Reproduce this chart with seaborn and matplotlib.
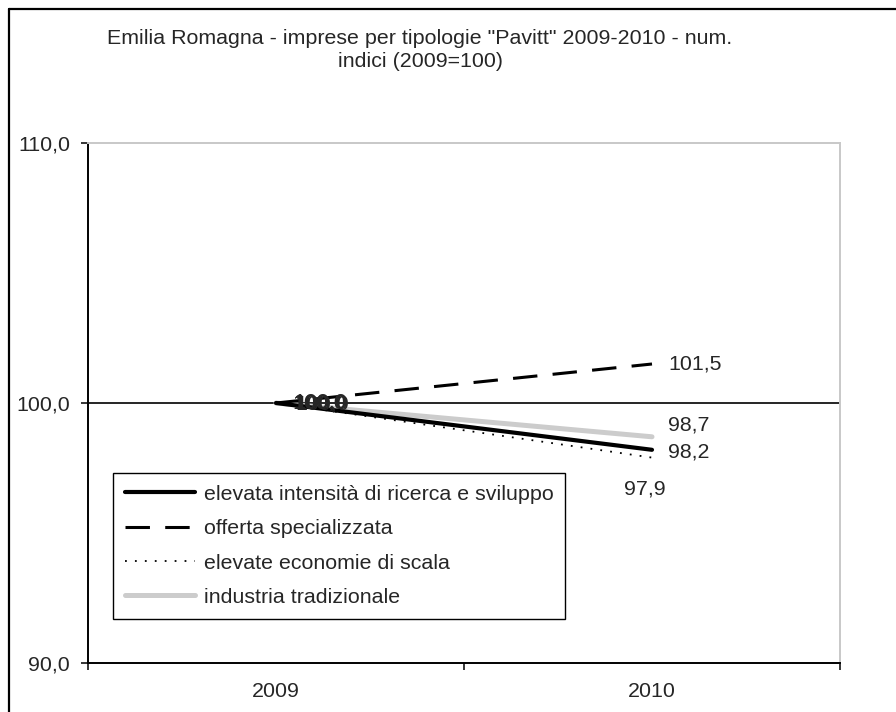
import matplotlib
matplotlib.use("Agg")
import matplotlib.pyplot as plt
from matplotlib.lines import Line2D
import seaborn as sns
import pandas as pd

# data
years = ["2009", "2010"]
series_names = ["elevata intensità di ricerca e sviluppo", "offerta specializzata",
                "elevate economie di scala", "industria tradizionale"]
alta_ricerca = [100.0, 98.2]
offerta_spec = [100.0, 101.5]
economie_scala = [100.0, 97.9]
tradizionale = [100.0, 98.7]
end_labels = ["98,2", "101,5", "97,9", "98,7"]

FS = 15.4

sns.set_theme(style="white")
plt.rcParams['font.family'] = ['Liberation Sans', 'DejaVu Sans']

fig = plt.figure(figsize=(8.96, 7.12), dpi=100)
ax = fig.add_axes([88 / 896, 1 - 663 / 712, (840 - 88) / 896, (663 - 143) / 712])

x = [0, 1]
# style per series: color, linewidth, linestyle
styles = [
    ("#cccccc", 3.6, "-", tradizionale, 3),
    ("black", 1.3, (0, (1, 4.5)), economie_scala, 2),
    ("black", 2.2, (0, (8, 5)), offerta_spec, 1),
    ("black", 3.0, "-", alta_ricerca, 0),
]
ax.axhline(100, color="black", lw=1.2, zorder=1)
lines = {}
for color, lw, ls, vals, idx in styles:
    sns.lineplot(x=x, y=vals, ax=ax, color=color, lw=lw, linestyle=ls, sort=False, zorder=3)
    lines[idx] = ax.get_lines()[-1]

# data labels (the four 2009 labels overlap, as in the original)
offsets_2009 = [(16, 0), (18, 0), (17, 1), (19, -1)]
for i, vals in enumerate([alta_ricerca, offerta_spec, economie_scala, tradizionale]):
    ax.annotate(f"{vals[0]:.1f}".replace(".", ","), (0, vals[0]), xytext=offsets_2009[i],
                textcoords="offset pixels", va="center", ha="left", fontsize=FS, zorder=5)
end_offsets = [(16, -2), (16, 0), (-28, -31), (16, 12)]
for i, vals in enumerate([alta_ricerca, offerta_spec, economie_scala, tradizionale]):
    ax.annotate(end_labels[i], (1, vals[1]), xytext=end_offsets[i],
                textcoords="offset pixels", va="center", ha="left", fontsize=FS, zorder=5)

ax.set_xlim(-0.5, 1.5)
ax.set_ylim(90, 110)
ax.set_yticks([90, 100, 110])
ax.set_yticklabels(["90,0", "100,0", "110,0"])
ax.set_xticks([-0.5, 0.5, 1.5])
ax.set_xticklabels([])
ax.set_xticks([0, 1], minor=True)
ax.set_xticklabels(years, minor=True)
ax.tick_params(axis="x", which="major", direction="out", length=5, width=1.1, color="black", bottom=True)
ax.tick_params(axis="x", which="minor", length=0, pad=14, labelsize=FS)
ax.tick_params(axis="y", direction="out", length=5, width=1.1, color="black", left=True, pad=8, labelsize=FS)
ax.grid(False)
for s in ["left", "bottom"]:
    ax.spines[s].set_color("black")
    ax.spines[s].set_linewidth(1.4)
for s in ["top", "right"]:
    ax.spines[s].set_color("#c8c8c8")
    ax.spines[s].set_linewidth(1.4)

handles = [lines[0], lines[1], lines[2], lines[3]]
leg = fig.legend(handles, series_names, loc="upper left", bbox_to_anchor=(113 / 896, 1 - 473 / 712),
                 fontsize=FS, frameon=True, fancybox=False, edgecolor="black", framealpha=1,
                 handlelength=3.3, handletextpad=0.4, labelspacing=0.72, borderpad=0.55,
                 borderaxespad=0)
leg.get_frame().set_linewidth(1.0)

fig.text(420 / 896, 1 - 50 / 712, "Emilia Romagna - imprese per tipologie \"Pavitt\" 2009-2010 - num.\nindici (2009=100)",
         ha="center", va="center", fontsize=FS, linespacing=1.3)

# outer chart border (left and top edges)
fig.add_artist(Line2D([9 / 896, 9 / 896], [0, 1 - 9 / 712], color="black", lw=1.6, transform=fig.transFigure))
fig.add_artist(Line2D([9 / 896, 1], [1 - 9 / 712, 1 - 9 / 712], color="black", lw=1.6, transform=fig.transFigure))

fig.savefig("out.png", dpi=100)
